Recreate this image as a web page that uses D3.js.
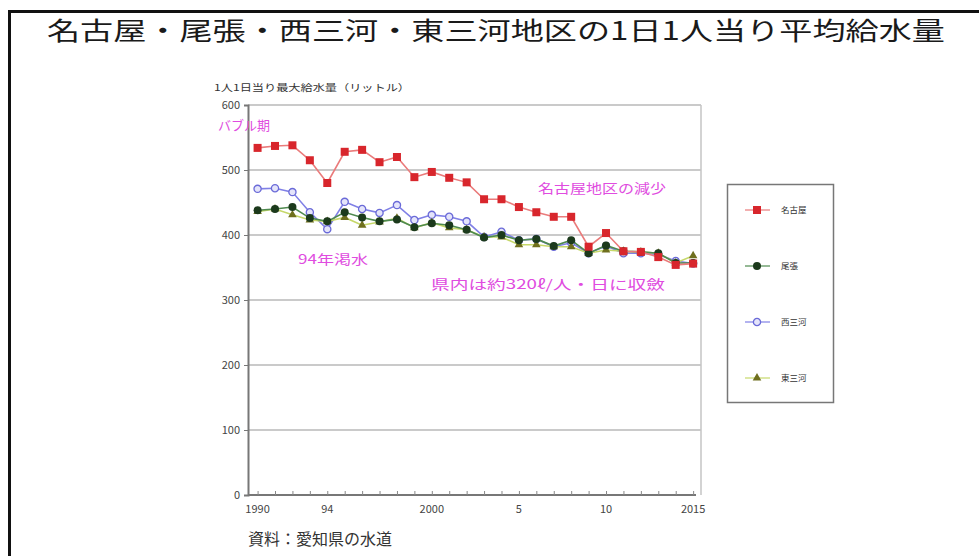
<!DOCTYPE html>
<html>
<head>
<meta charset="utf-8">
<script src="https://cdn.jsdelivr.net/npm/d3@7"></script>
<style>
  body { margin: 0; background: #fff; }
  svg { display: block; }
  text { font-family: "Noto Sans CJK JP", "Noto Sans", sans-serif; }
</style>
</head>
<body>
<div id="vis"></div>
<script>
// data (litres per person per day)
const years = d3.range(1990, 2016)
const nagoya = [534, 537, 538, 515, 480, 528, 531, 512, 520, 489, 497, 488, 481, 455, 455, 443, 435, 428, 428, 382, 403, 375, 374, 366, 354, 356]
const owari = [438, 440, 443, 426, 421, 435, 427, 421, 424, 412, 418, 415, 408, 396, 400, 392, 394, 383, 392, 372, 384, 375, 374, 372, 357, 357]
const nishiMikawa = [471, 472, 466, 435, 409, 451, 440, 434, 446, 423, 431, 428, 421, 397, 405, 392, 394, 382, 388, 372, 383, 372, 372, 370, 360, 356]
const higashiMikawa = [436, 440, 431, 423, 421, 427, 415, 420, 426, 411, 419, 411, 408, 397, 397, 385, 385, 382, 382, 372, 377, 375, 374, 372, 357, 368]
const seriesNames = ['名古屋', '尾張', '西三河', '東三河']
const yTicks = [0, 100, 200, 300, 400, 500, 600]
const xTickYears = [1990, 1994, 2000, 2005, 2010, 2015]
const xTickLabels = ['1990', '94', '2000', '5', '10', '2015']

const W = 979, H = 556
const plot = { left: 248, right: 701, top: 105, bottom: 495 }

const svg = d3.select('#vis').append('svg')
  .attr('width', W)
  .attr('height', H)

// outer frame (top and left edge)
svg.append('path')
  .attr('d', `M9.5,${H} V11.5 H${W}`)
  .attr('fill', 'none')
  .attr('stroke', '#111')
  .attr('stroke-width', 3)

svg.append('text')
  .attr('x', 47).attr('y', 40)
  .attr('font-size', 25)
  .attr('fill', '#1a1a1a')
  .attr('textLength', 898)
  .attr('lengthAdjust', 'spacingAndGlyphs')
  .text('名古屋・尾張・西三河・東三河地区の1日1人当り平均給水量')

const x = d3.scaleLinear().domain([1989.45, 2015.05]).range([plot.left, 694])
const y = d3.scaleLinear().domain([0, 600]).range([plot.bottom, plot.top])

// grid lines
svg.append('g').selectAll('line')
  .data(yTicks.slice(1))
  .join('line')
  .attr('x1', plot.left).attr('x2', plot.right)
  .attr('y1', d => y(d)).attr('y2', d => y(d))
  .attr('stroke', '#b8b8b8')
  .attr('stroke-width', 1.5)

// right border of the plot
svg.append('line')
  .attr('x1', plot.right).attr('x2', plot.right)
  .attr('y1', plot.top).attr('y2', plot.bottom)
  .attr('stroke', '#c4c4c4')
  .attr('stroke-width', 1.5)

// y axis
const yAxis = d3.axisLeft(y).tickValues(yTicks).tickSize(4).tickPadding(4)
const gy = svg.append('g').attr('transform', `translate(${plot.left},0)`).call(yAxis)
gy.select('.domain').attr('stroke', '#777').attr('stroke-width', 2)
gy.selectAll('.tick line').attr('stroke', '#777')
gy.selectAll('text').attr('font-size', 11).attr('fill', '#444')
  .attr('font-family', 'DejaVu Sans, sans-serif')

// x axis with a small tick for each year
const xAxis = d3.axisBottom(x).tickValues(years).tickSize(-4).tickFormat('')
const gx = svg.append('g').attr('transform', `translate(0,${plot.bottom})`).call(xAxis)
gx.select('.domain').attr('stroke', '#777').attr('stroke-width', 2)
  .attr('d', `M${plot.left},0H696`)
gx.selectAll('.tick line').attr('stroke', '#888')

svg.append('g').selectAll('text')
  .data(xTickYears)
  .join('text')
  .attr('x', d => x(d))
  .attr('y', plot.bottom + 18)
  .attr('text-anchor', 'middle')
  .attr('font-size', 11)
  .attr('fill', '#444')
  .attr('font-family', 'DejaVu Sans, sans-serif')
  .text((d, i) => xTickLabels[i])

svg.append('text')
  .attr('x', 214).attr('y', 91)
  .attr('font-size', 9.5)
  .attr('fill', '#333')
  .attr('textLength', 196)
  .attr('lengthAdjust', 'spacingAndGlyphs')
  .text('1人1日当り最大給水量（リットル）')

const series = [
  { name: seriesNames[2], values: nishiMikawa, line: '#8080e6', fill: '#e4e4fa', stroke: '#6a6ad8', shape: 'open' },
  { name: seriesNames[3], values: higashiMikawa, line: '#c6d86a', fill: '#6f6f1e', stroke: '#6f6f1e', shape: 'tri' },
  { name: seriesNames[1], values: owari, line: '#4f8a4f', fill: '#1c3a1c', stroke: '#1c3a1c', shape: 'dot' },
  { name: seriesNames[0], values: nagoya, line: '#ea7b7b', fill: '#d8262c', stroke: '#d8262c', shape: 'sq' }
]

const line = d3.line().x((d, i) => x(years[i])).y(d => y(d))

function marker(g, s) {
  if (s.shape === 'sq') {
    g.append('rect').attr('x', -4).attr('y', -4).attr('width', 8).attr('height', 8)
      .attr('fill', s.fill)
  } else if (s.shape === 'tri') {
    g.append('path').attr('d', d3.symbol(d3.symbolTriangle, 32)())
      .attr('fill', s.fill)
  } else if (s.shape === 'open') {
    g.append('circle').attr('r', 3.6).attr('fill', s.fill)
      .attr('stroke', s.stroke).attr('stroke-width', 1.3)
  } else {
    g.append('circle').attr('r', 4).attr('fill', s.fill)
  }
}

series.forEach(s => {
  svg.append('path')
    .datum(s.values)
    .attr('d', line)
    .attr('fill', 'none')
    .attr('stroke', s.line)
    .attr('stroke-width', 1.6)
  svg.append('g').selectAll('g')
    .data(s.values)
    .join('g')
    .attr('transform', (d, i) => `translate(${x(years[i])},${y(d)})`)
    .each(function () { marker(d3.select(this), s) })
})

// annotations
const notes = [
  { text: 'バブル期', x: 218, y: 130, len: 52 },
  { text: '94年渇水', x: 298, y: 264, len: 70 },
  { text: '名古屋地区の減少', x: 538, y: 193, len: 128 },
  { text: '県内は約320ℓ/人・日に収斂', x: 431, y: 289, len: 234 }
]
svg.append('g').selectAll('text')
  .data(notes)
  .join('text')
  .attr('x', d => d.x).attr('y', d => d.y)
  .attr('font-size', 13)
  .attr('fill', '#e04ce0')
  .attr('textLength', d => d.len)
  .attr('lengthAdjust', 'spacingAndGlyphs')
  .text(d => d.text)

// legend
svg.append('rect')
  .attr('x', 727.5).attr('y', 184.5)
  .attr('width', 106).attr('height', 218)
  .attr('fill', '#fff')
  .attr('stroke', '#777')
  .attr('stroke-width', 1.5)

const legendRows = [series[3], series[2], series[0], series[1]]
const lg = svg.append('g').selectAll('g')
  .data(legendRows)
  .join('g')
  .attr('transform', (d, i) => `translate(757,${210 + i * 56})`)
lg.append('line')
  .attr('x1', -12).attr('x2', 13)
  .attr('stroke', d => d.line)
  .attr('stroke-width', 1.2)
lg.each(function (d) { marker(d3.select(this), d) })
lg.append('text')
  .attr('x', 24).attr('y', 3)
  .attr('font-size', 8.5)
  .attr('fill', '#333')
  .text(d => d.name)

svg.append('text')
  .attr('x', 248).attr('y', 545)
  .attr('font-size', 16)
  .attr('fill', '#333')
  .attr('font-family', '"Noto Serif CJK JP", "Noto Sans CJK JP", serif')
  .text('資料：愛知県の水道')
</script>
</body>
</html>
